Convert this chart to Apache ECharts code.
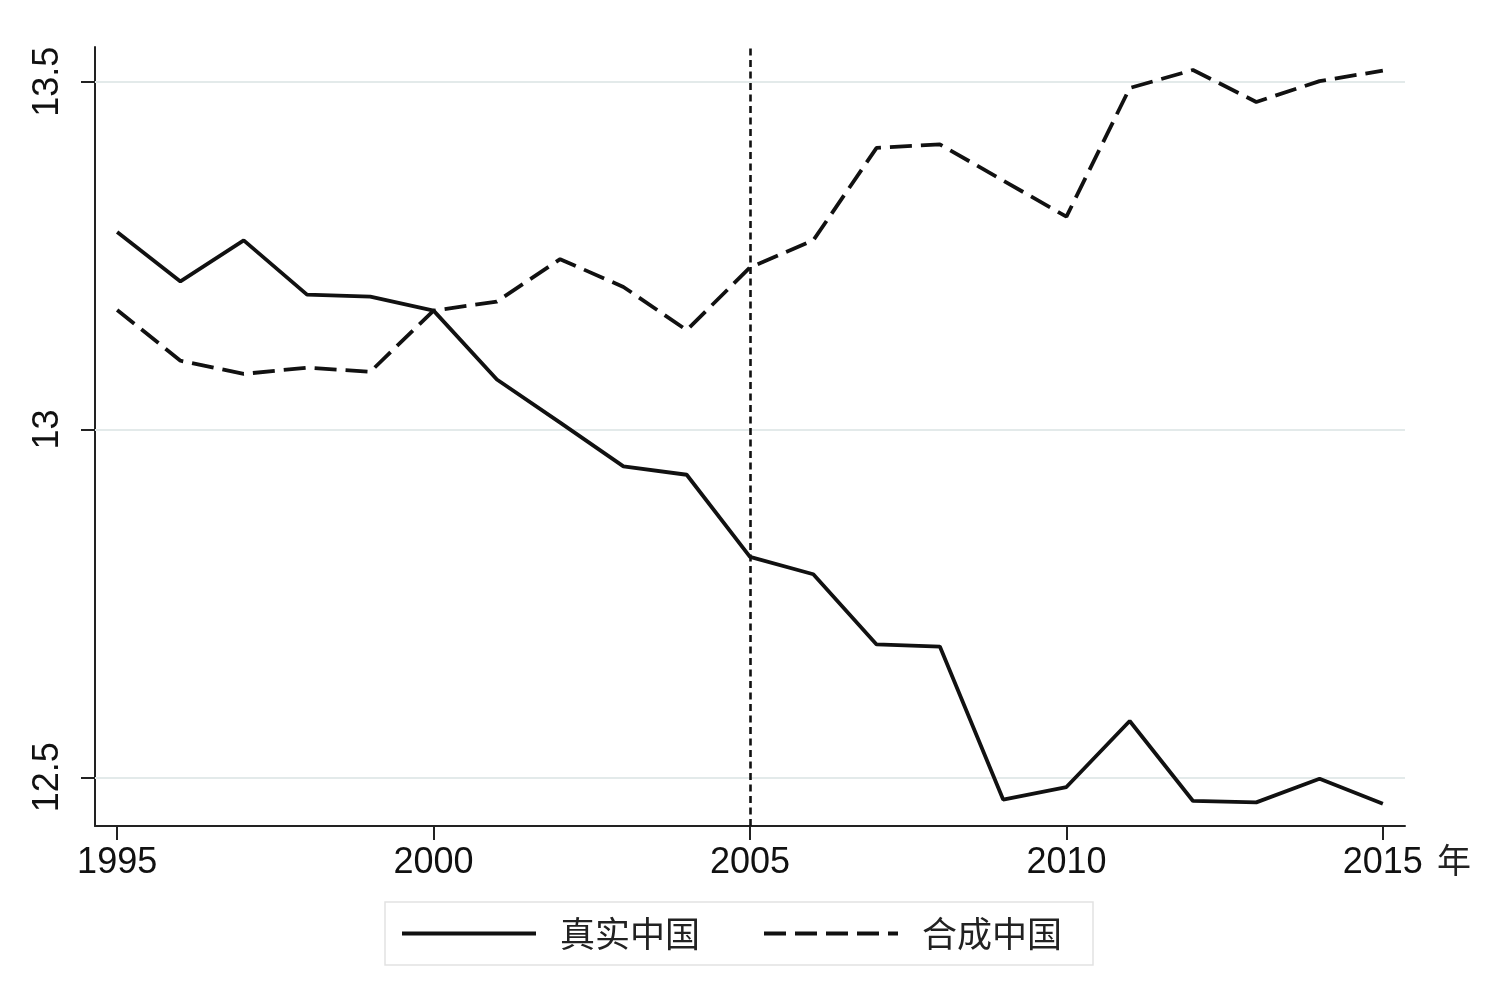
<!DOCTYPE html>
<html>
<head>
<meta charset="utf-8">
<script src="https://cdn.jsdelivr.net/npm/echarts@6/dist/echarts.min.js"></script>
<style>
html, body { margin: 0; padding: 0; background: #fff; }
#main { width: 1491px; height: 988px; }
</style>
</head>
<body>
<div id="main"></div>
<script>
// data
var years = [1995, 1996, 1997, 1998, 1999, 2000, 2001, 2002, 2003, 2004, 2005,
             2006, 2007, 2008, 2009, 2010, 2011, 2012, 2013, 2014, 2015];
var realChina = [13.284, 13.213, 13.272, 13.194, 13.191, 13.171, 13.072, 13.010, 12.947, 12.935, 12.817,
                 12.792, 12.691, 12.688, 12.468, 12.486, 12.581, 12.466, 12.464, 12.498, 12.462];
var synthChina = [13.172, 13.099, 13.080, 13.089, 13.083, 13.171, 13.184, 13.245, 13.205, 13.143, 13.233,
                  13.272, 13.405, 13.410, 13.358, 13.306, 13.491, 13.517, 13.471, 13.501, 13.516];
var seriesNames = ['真实中国', '合成中国'];
var xTicks = [1995, 2000, 2005, 2010, 2015];
var yTicks = [12.5, 13, 13.5];
var treatYear = 2005;

var chart = echarts.init(document.getElementById('main'));

function pairs(vals) {
    return years.map(function (y, i) { return [y, vals[i]]; });
}

var ink = '#111';
var latin = '"Liberation Sans", Arial, sans-serif';
var cjk = '"Noto Sans CJK SC", sans-serif';

var option = {
    animation: false,
    backgroundColor: '#fff',
    grid: { left: 95, right: 86, top: 47, bottom: 162 },
    legend: {
        left: 385,
        top: 902,
        itemWidth: 134,
        itemHeight: 14,
        itemGap: 62,
        padding: [14, 31, 14, 15],
        borderColor: '#e2e2e2',
        borderWidth: 1.5,
        itemStyle: { opacity: 0 },
        lineStyle: { width: 4 },
        textStyle: { fontSize: 35, fontFamily: cjk, color: '#222', padding: [0, 0, 0, 19] },
        data: seriesNames
    },
    xAxis: {
        type: 'value',
        min: 1994.65,
        max: 2015.35,
        name: '年',
        nameLocation: 'end',
        nameGap: 32,
        nameTextStyle: { fontSize: 34, fontFamily: cjk, color: '#222', verticalAlign: 'top', padding: [17, 0, 0, 0] },
        axisLine: { lineStyle: { color: '#222', width: 2 } },
        axisTick: { customValues: xTicks, length: 14, lineStyle: { color: '#222', width: 2 } },
        axisLabel: {
            customValues: xTicks, fontSize: 36, fontFamily: latin, color: ink, margin: 19,
            formatter: function (v) { return String(v); }
        },
        splitLine: { show: false }
    },
    yAxis: {
        type: 'value',
        min: 12.43,
        max: 13.55,
        axisLine: { show: true, lineStyle: { color: '#222', width: 2 } },
        axisTick: { show: true, customValues: yTicks, length: 14, lineStyle: { color: '#222', width: 2 } },
        axisLabel: { customValues: yTicks, rotate: 90, fontSize: 36, fontFamily: latin, color: ink, margin: 29 },
        splitLine: { show: false }
    },
    series: [
        {
            name: seriesNames[0],
            type: 'line',
            data: pairs(realChina),
            symbol: 'none',
            lineStyle: { color: ink, width: 3.8, type: 'solid' },
            itemStyle: { color: ink },
            markLine: {
                silent: true,
                symbol: 'none',
                z: 1,
                label: { show: false },
                lineStyle: { color: '#e3eaea', width: 2, type: 'solid' },
                data: yTicks.map(function (v) { return { yAxis: v }; })
            }
        },
        {
            name: seriesNames[1],
            type: 'line',
            data: pairs(synthChina),
            symbol: 'none',
            lineStyle: { color: ink, width: 3.8, type: [22, 9] },
            itemStyle: { color: ink },
            markLine: {
                silent: true,
                symbol: 'none',
                label: { show: false },
                lineStyle: { color: ink, width: 2.6, type: [7, 4.5] },
                data: [{ xAxis: treatYear }]
            }
        }
    ]
};
chart.setOption(option);
</script>
</body>
</html>
